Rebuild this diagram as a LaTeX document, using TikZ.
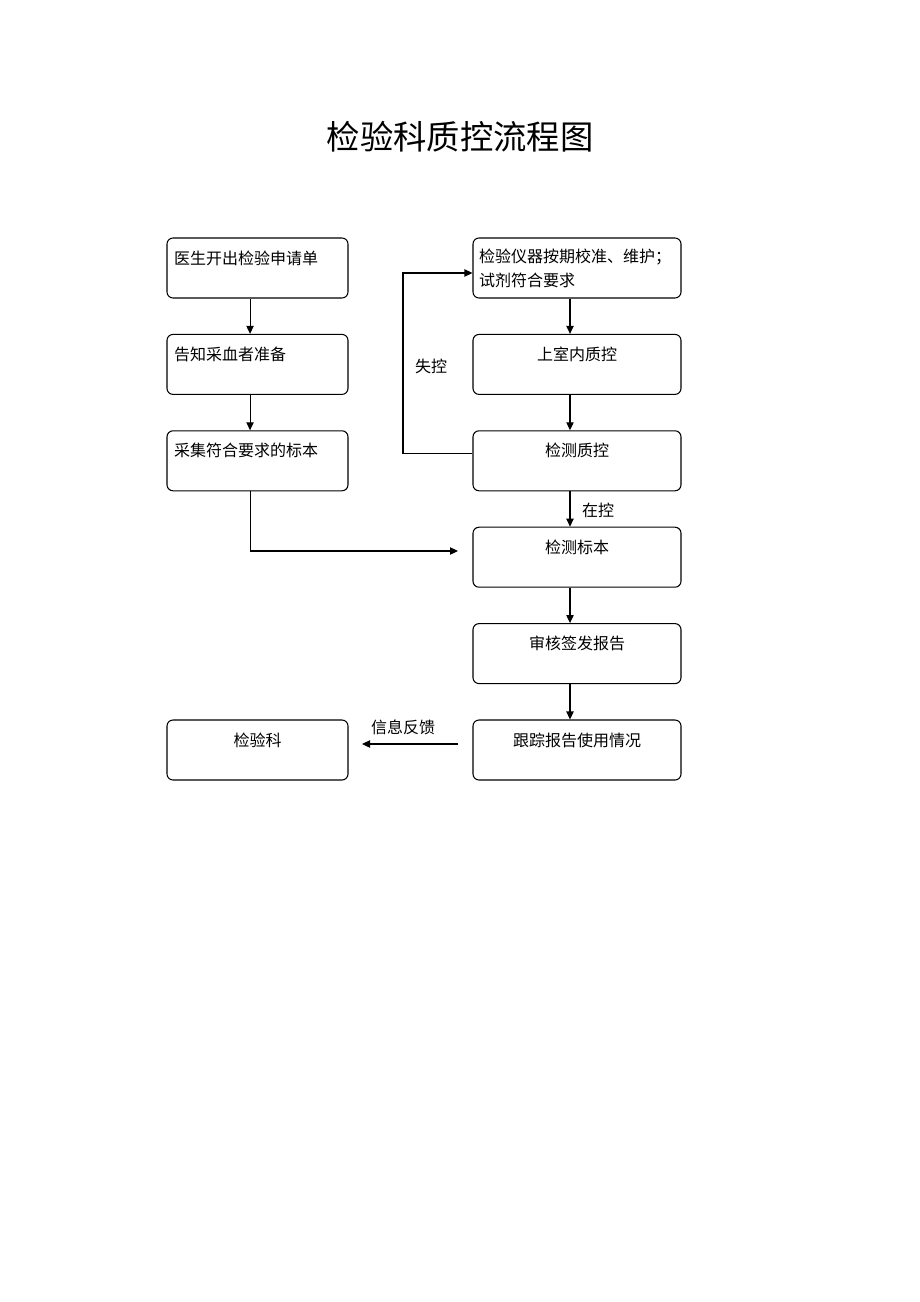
\documentclass[tikz,border=0pt]{standalone}
\usepackage{fontspec}
\setmainfont{Noto Sans CJK SC}
\usetikzlibrary{arrows.meta}

\tikzstyle{stepleft} = [draw=black,line width=0.8pt,rectangle,rounded corners=4.5pt,inner xsep=5.25pt,inner ysep=0pt,text width=125.25pt,align=left,text height=19.5pt,text depth=25.5pt,font=\fontsize{12pt}{18pt}\selectfont]
\tikzstyle{stepright} = [draw=black,line width=0.8pt,rectangle,rounded corners=4.5pt,inner xsep=5.25pt,inner ysep=0pt,text width=145.5pt,align=center,text height=19.5pt,text depth=25.5pt,font=\fontsize{12pt}{18pt}\selectfont]
\tikzstyle{steptwo} = [draw=black,line width=0.8pt,rectangle,rounded corners=4.5pt,inner xsep=4.5pt,inner ysep=0pt,text width=147pt,align=left,minimum height=45pt,font=\fontsize{12pt}{18pt}\selectfont]
\tikzstyle{arr} = [-{Triangle[length=6pt,width=5.5pt]},line width=0.8pt]
\tikzstyle{tag} = [font=\fontsize{12pt}{18pt}\selectfont,inner sep=0pt]

\begin{document}
\begin{tikzpicture}[x=0.75pt,y=-0.75pt,node distance=72.3pt]
	\useasboundingbox (0,0) rectangle (920,1302);
	\node (title) at (460,137) {\fontsize{25pt}{30pt}\selectfont 检验科质控流程图};
	% left column
	\node (order) [stepleft] at (257.5,268) {医生开出检验申请单};
	\node (inform) [stepleft,below of=order] {告知采血者准备};
	\node (collect) [stepleft,below of=inform] {采集符合要求的标本};
	\node (lab) [stepright,text width=125.25pt] at (257.5,750) {检验科};
	% right column
	\node (calib) [steptwo] at (577,268) {检验仪器按期校准、维护；\\试剂符合要求};
	\node (iqc) [stepright,below of=calib] {上室内质控};
	\node (qcrun) [stepright,below of=iqc] {检测质控};
	\node (test) [stepright,below of=qcrun] {检测标本};
	\node (review) [stepright,below of=test] {审核签发报告};
	\node (track) [stepright,below of=review] {跟踪报告使用情况};
	% labels
	\node (lost) [tag] at (431,366) {失控};
	\node (ok) [tag] at (598,510) {在控};
	\node (feedback) [tag] at (403,727) {信息反馈};
	\coordinate (turn) at (403,364);
	\coordinate (intest) at (458,551);
	\coordinate (fbstart) at (458,744);
	\coordinate (fbend) at (362,744);
	% connectors
	\draw [arr] ([xshift=-5.6pt]order.south) -- ([xshift=-5.6pt]inform.north);
	\draw [arr] ([xshift=-5.6pt]inform.south) -- ([xshift=-5.6pt]collect.north);
	\draw [arr] ([xshift=-5.6pt]collect.south) |- (intest);
	\draw [arr] ([xshift=-5.25pt]calib.south) -- ([xshift=-5.25pt]iqc.north);
	\draw [arr] ([xshift=-5.25pt]iqc.south) -- ([xshift=-5.25pt]qcrun.north);
	\draw [arr] ([xshift=-5.25pt]qcrun.south) -- ([xshift=-5.25pt]test.north);
	\draw [arr] ([xshift=-5.25pt]test.south) -- ([xshift=-5.25pt]review.north);
	\draw [arr] ([xshift=-5.25pt]review.south) -- ([xshift=-5.25pt]track.north);
	\draw [arr] ([yshift=5.25pt]qcrun.west) -| (turn) |- ([yshift=-3.75pt]calib.west);
	\draw [arr] (fbstart) -- (fbend);
\end{tikzpicture}
\end{document}
